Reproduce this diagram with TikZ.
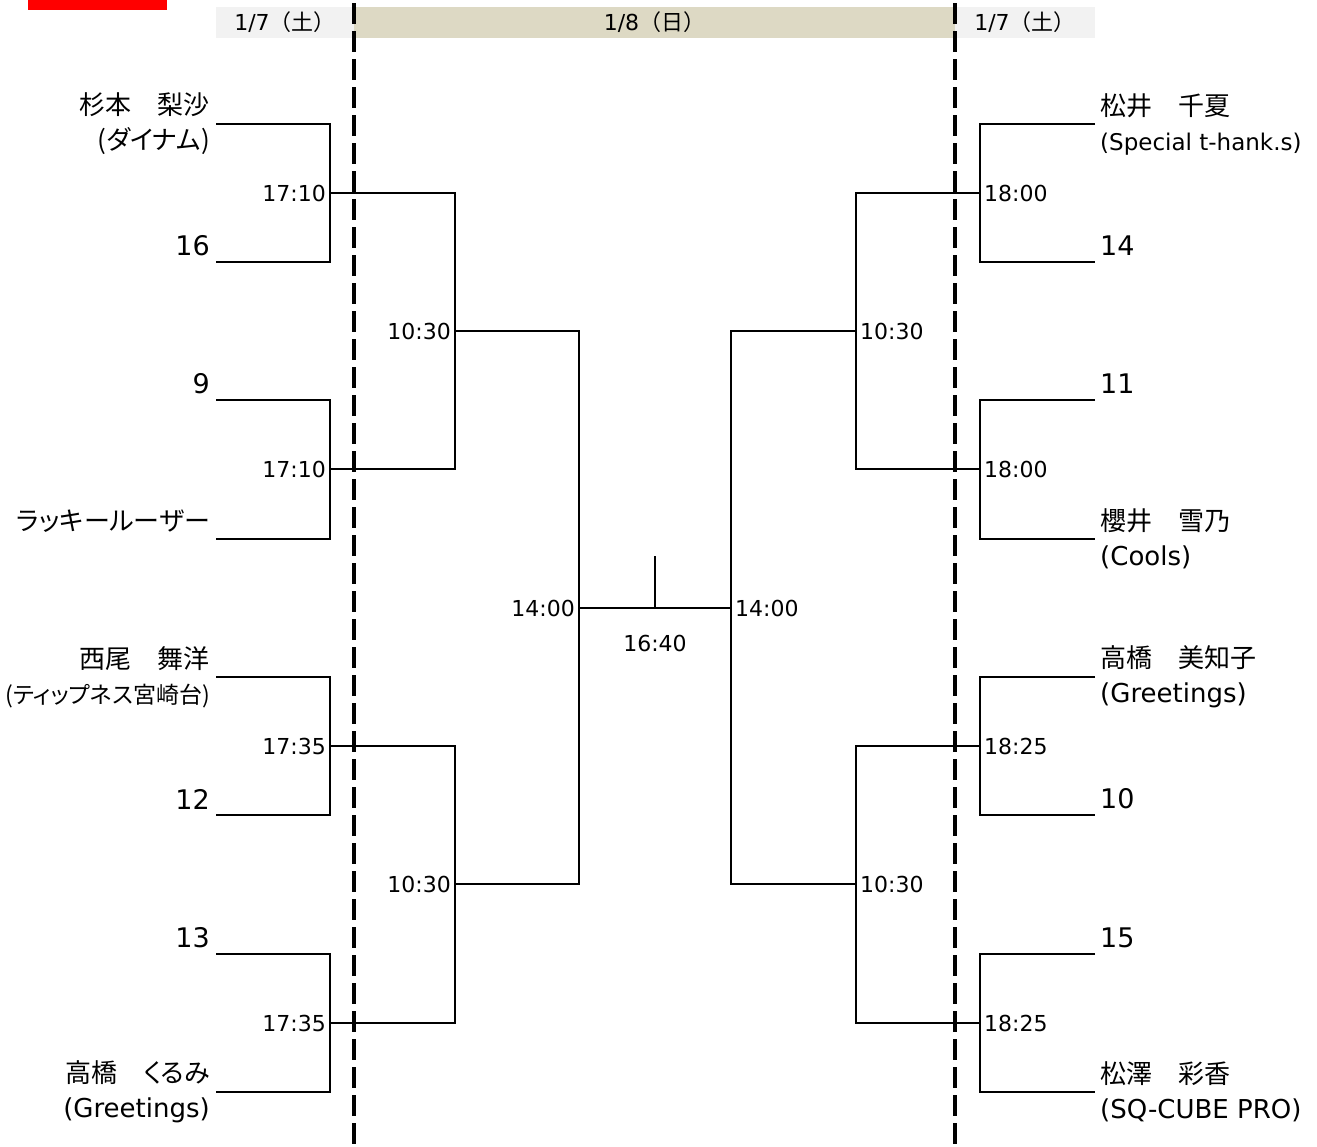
\documentclass[tikz,border=0pt]{standalone}
\usepackage{fontspec}
\setmainfont{DejaVu Sans}
\newfontfamily\jp[RawFeature=+palt]{Noto Sans CJK JP}
\newfontfamily\jpwide{Noto Sans CJK JP}
\usepackage{xcolor}
\definecolor{hdrgray}{HTML}{F2F2F2}
\definecolor{hdrtan}{HTML}{DDD9C4}
\usetikzlibrary{positioning}
\tikzset{
    bracket/.style={line width=1.8pt},
    daydiv/.style={line width=4pt, dash pattern=on 21pt off 7pt},
    hdr/.style={inner sep=0pt, minimum height=31pt,
        font=\fontsize{22}{22}\selectfont},
    time/.style={inner sep=0pt, font=\fontsize{22}{22}\selectfont},
    player/.style={inner sep=0pt, font=\jp\fontsize{26}{35}\selectfont},
    seed/.style={inner sep=0pt, font=\fontsize{27}{27}\selectfont},
}

\begin{document}
\begin{tikzpicture}[x=1pt, y=-1pt]
        \useasboundingbox (0,0) rectangle (1317,1146);
        \fill[red] (28,0) rectangle (167,10);

        % day header
        \node[hdr, fill=hdrgray, minimum width=138pt] (sat1) at (285,22.5) {1/7{\jpwide（土）}};
        \node[hdr, fill=hdrtan, minimum width=601pt] (sun) at (654.5,22.5) {1/8{\jpwide（日）}};
        \node[hdr, fill=hdrgray, minimum width=140pt] (sat2) at (1025,22.5) {1/7{\jpwide（土）}};

        % player lines and joins
        \foreach \k/\y in {1/124, 2/262, 3/400, 4/539, 5/677, 6/815, 7/954, 8/1092} {
            \coordinate (lp\k) at (216,\y);
            \coordinate (rp\k) at (1095,\y);
        }
        \foreach \m/\y in {1/193, 2/469, 3/746, 4/1023} {
            \coordinate (lr\m) at (330,\y);
            \coordinate (rr\m) at (980,\y);
        }
        \coordinate (lq1) at (455,331);
        \coordinate (lq2) at (455,884);
        \coordinate (rq1) at (856,331);
        \coordinate (rq2) at (856,884);
        \coordinate (ls) at (579,608);
        \coordinate (rs) at (731,608);
        \coordinate (fin) at (655,608);
        \coordinate (fintop) at (655,556);

        \foreach \m/\a/\b in {1/1/2, 2/3/4, 3/5/6, 4/7/8} {
            \draw[bracket] (lp\a) -| (lr\m) |- (lp\b);
            \draw[bracket] (rp\a) -| (rr\m) |- (rp\b);
        }
        \draw[bracket] (lr1) -| (lq1) |- (lr2);
        \draw[bracket] (lr3) -| (lq2) |- (lr4);
        \draw[bracket] (rr1) -| (rq1) |- (rr2);
        \draw[bracket] (rr3) -| (rq2) |- (rr4);
        \draw[bracket] (lq1) -| (ls) |- (lq2);
        \draw[bracket] (rq1) -| (rs) |- (rq2);
        \draw[bracket] (ls) -- (rs);
        \draw[bracket] (fin) -- (fintop);

        % times
        \node[time, left=4pt of lr1] (t1) {17:10};
        \node[time, left=4pt of lr2] (t2) {17:10};
        \node[time, left=4pt of lr3] (t3) {17:35};
        \node[time, left=4pt of lr4] (t4) {17:35};
        \node[time, right=4pt of rr1] (t5) {18:00};
        \node[time, right=4pt of rr2] (t6) {18:00};
        \node[time, right=4pt of rr3] (t7) {18:25};
        \node[time, right=4pt of rr4] (t8) {18:25};
        \node[time, left=4pt of lq1] (t9) {10:30};
        \node[time, left=4pt of lq2] (t10) {10:30};
        \node[time, right=4pt of rq1] (t11) {10:30};
        \node[time, right=4pt of rq2] (t12) {10:30};
        \node[time, left=4pt of ls] (t13) {14:00};
        \node[time, right=4pt of rs] (t14) {14:00};
        \node[time, below=27pt of fin] (t15) {16:40};

        % players, left
        \node[player, left=6pt of lp1, align=right] (n1) {杉本　梨沙\\(ダイナム)};
        \node[seed, left=6pt of lp2, yshift=16pt] (n2) {16};
        \node[seed, left=6pt of lp3, yshift=16pt] (n3) {9};
        \node[player, left=6pt of lp4, yshift=18pt] (n4) {ラッキールーザー};
        \node[player, left=6pt of lp5, align=right] (n5) {西尾　舞洋\\{\fontsize{23}{35}\selectfont(ティップネス宮崎台)}};
        \node[seed, left=6pt of lp6, yshift=16pt] (n6) {12};
        \node[seed, left=6pt of lp7, yshift=16pt] (n7) {13};
        \node[player, left=6pt of lp8, align=right] (n8) {高橋　くるみ\\{\rmfamily(Greetings)}};

        % players, right
        \node[player, right=5pt of rp1, align=left] (m1) {松井　千夏\\{\rmfamily\fontsize{23}{35}\selectfont(Special t-hank.s)}};
        \node[seed, right=5pt of rp2, yshift=16pt] (m2) {14};
        \node[seed, right=5pt of rp3, yshift=16pt] (m3) {11};
        \node[player, right=5pt of rp4, align=left] (m4) {櫻井　雪乃\\{\rmfamily(Cools)}};
        \node[player, right=5pt of rp5, align=left] (m5) {高橋　美知子\\{\rmfamily(Greetings)}};
        \node[seed, right=5pt of rp6, yshift=16pt] (m6) {10};
        \node[seed, right=5pt of rp7, yshift=16pt] (m7) {15};
        \node[player, right=5pt of rp8, align=left] (m8) {松澤　彩香\\{\rmfamily(SQ-CUBE PRO)}};

        % day dividers
        \coordinate (d1top) at (354,3);
        \coordinate (d1bot) at (354,1146);
        \coordinate (d2top) at (955,3);
        \coordinate (d2bot) at (955,1146);
        \draw[daydiv] (d1top) -- (d1bot);
        \draw[daydiv] (d2top) -- (d2bot);
\end{tikzpicture}
\end{document}
